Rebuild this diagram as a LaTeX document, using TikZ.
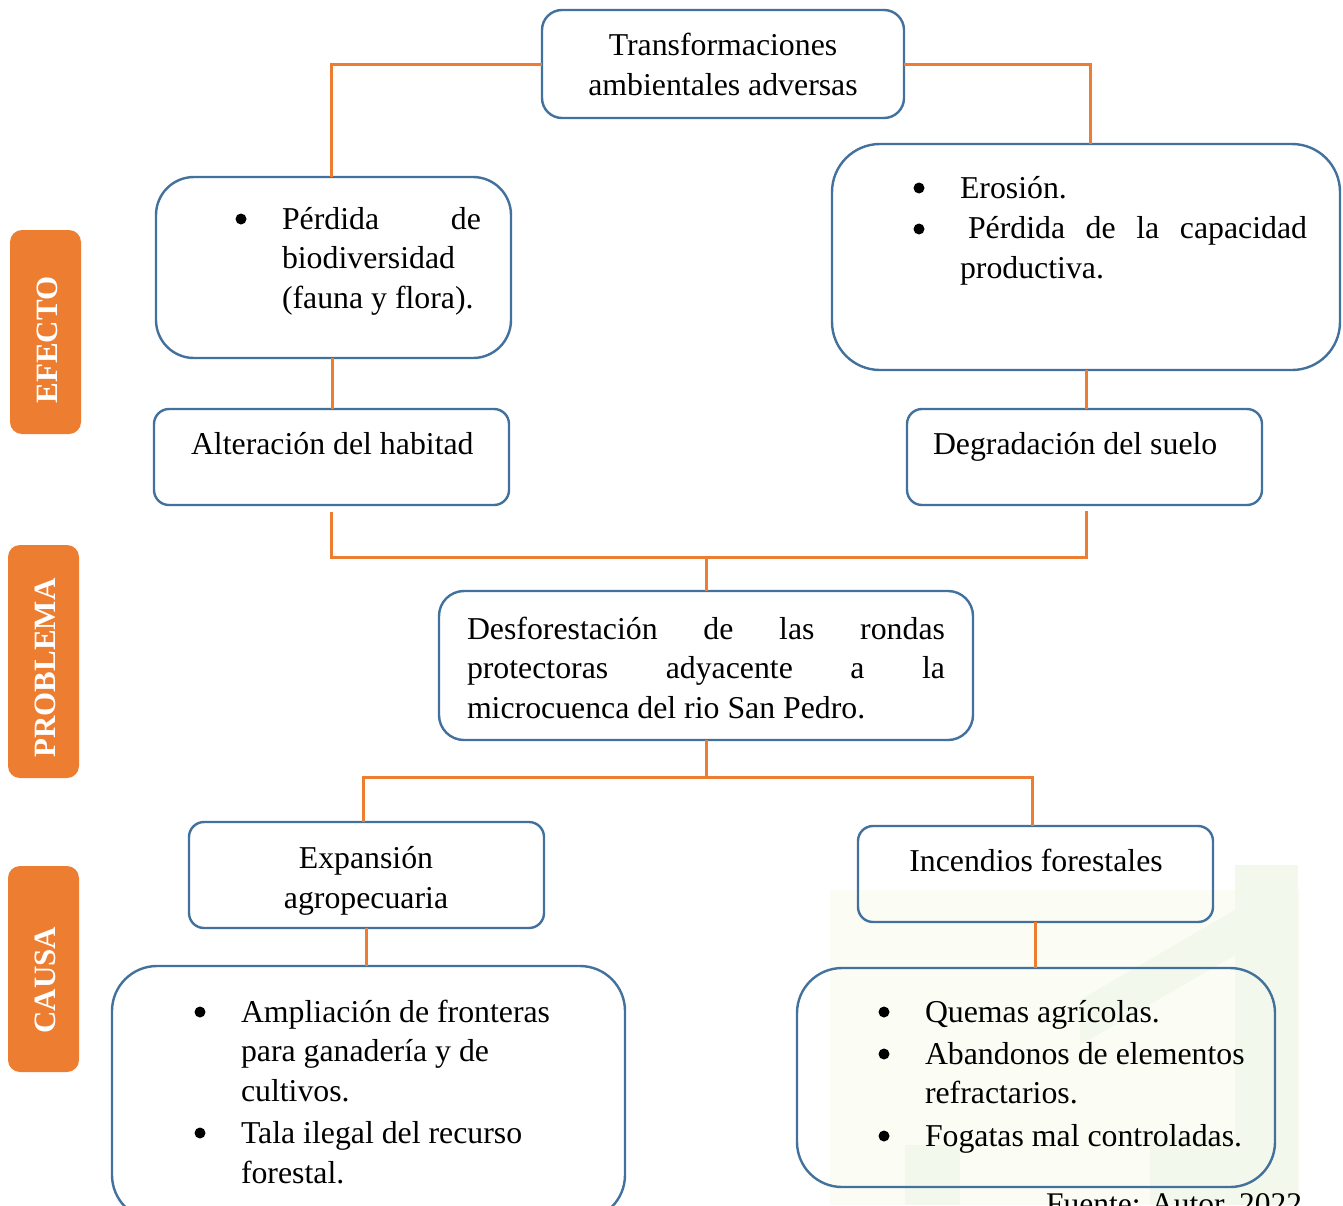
\documentclass[tikz,border=0pt]{standalone}
\usepackage{fontspec}
\setmainfont{Liberation Serif}
\definecolor{bluec}{HTML}{41719C}
\definecolor{orangec}{HTML}{ED7D31}
\definecolor{wmgreen}{HTML}{F3F8EC}
\definecolor{wmyellow}{HTML}{FBFCF3}
\newcommand\mylines[1]{\vtop{\baselineskip=39.5pt\lineskiplimit=-100pt\halign{##\hfil\cr#1\crcr}}}
\newcommand\mylinesc[1]{\vtop{\baselineskip=40pt\lineskiplimit=-100pt\halign{\hfil##\hfil\cr#1\crcr}}}
\tikzset{
  box/.style={draw=bluec, line width=2.4pt, rounded corners=#1, inner sep=0pt, outer sep=0pt},
  box/.default=15pt,
  conn/.style={draw=orangec, line width=3pt},
  txt/.style={inner sep=0pt, outer sep=0pt, font=\fontsize{31.8}{39.5}\selectfont},
  labbox/.style={fill=orangec, rounded corners=12pt, minimum width=71pt, inner sep=0pt, outer sep=0pt},
  labtxt/.style={rotate=90, text=white, inner sep=0pt, font=\fontsize{31}{31}\selectfont\bfseries},
  bul/.style={fill=black},
  wm/.style={fill=wmgreen}
}
\begin{document}
\begin{tikzpicture}[x=1pt,y=-1pt]
\useasboundingbox (0,0) rectangle (1343,1205);
\clip (0,0) rectangle (1343,1205);
\fill[white] (0,0) rectangle (1343,1205);
% faint watermark
\fill[wmyellow] (830,890) rectangle (1300,1205);
\fill[wm] (1235,865) rectangle (1298,1205);
\fill[wm] (1080,1000) -- (1235,910) -- (1235,955) -- (1080,1045) -- cycle;
\fill[wm] (1150,1135) rectangle (1235,1205);
\fill[wm] (905,1145) rectangle (960,1205);

% side labels
\node[labbox, minimum height=204pt] (labE) at (45.5,332) {};
\node[labtxt] (labEt) at (47,340) {EFECTO};
\node[labbox, minimum height=233pt] (labP) at (43.5,661.5) {};
\node[labtxt] (labPt) at (45,668) {PROBLEMA};
\node[labbox, minimum height=206pt] (labC) at (43.5,969) {};
\node[labtxt] (labCt) at (45,980) {CAUSA};

% boxes
\node[box=20pt, minimum width=362pt, minimum height=108pt] (top) at (723,64) {};
\node[box=38pt, minimum width=355pt, minimum height=181pt] (perd) at (333.5,267.5) {};
\node[box=48pt, minimum width=508pt, minimum height=226pt] (eros) at (1086,257) {};
\node[box=15pt, minimum width=355pt, minimum height=96pt] (alt) at (331.5,457) {};
\node[box=15pt, minimum width=355pt, minimum height=96pt] (deg) at (1084.5,457) {};
\node[box=25pt, minimum width=534pt, minimum height=149pt] (desf) at (706,665.5) {};
\node[box=15pt, minimum width=355pt, minimum height=106pt] (exp) at (366.5,875) {};
\node[box=15pt, minimum width=355pt, minimum height=96pt] (inc) at (1035.5,874) {};
\node[box=45pt, minimum width=513pt, minimum height=254pt] (amp) at (368.5,1093) {};
\node[box=45pt, minimum width=478pt, minimum height=219pt] (quem) at (1036,1077.5) {};

% texts
\node[txt, anchor=base] (ttop) at (723,55) {\mylinesc{Transformaciones\cr ambientales adversas}};
\node[txt, anchor=base west] (tperd) at (282,229) {\mylines{\makebox[199pt][s]{Pérdida de}\cr biodiversidad\cr (fauna y flora).}};
\node[txt, anchor=base west] (teros) at (960,198) {\mylines{Erosión.\cr\noalign{\vskip1pt}\hskip8pt\makebox[339pt][s]{Pérdida de la capacidad}\cr productiva.}};
\node[txt, anchor=base west] (talt) at (191,454) {Alteración del habitad};
\node[txt, anchor=base west] (tdeg) at (933,454) {Degradación del suelo};
\node[txt, anchor=base west] (tdesf) at (467,639) {\mylines{\makebox[478pt][s]{Desforestación de las rondas}\cr \makebox[478pt][s]{protectoras adyacente a la}\cr microcuenca del rio San Pedro.}};
\node[txt, anchor=base] (texp) at (366,868) {\mylinesc{Expansión\cr agropecuaria}};
\node[txt, anchor=base] (tinc) at (1036,871) {Incendios forestales};
\node[txt, anchor=base west] (tamp) at (241,1022) {\mylines{Ampliación de fronteras\cr para ganadería y de\cr cultivos.\cr\noalign{\vskip3pt}Tala ilegal del recurso\cr forestal.}};
\node[txt, anchor=base west] (tquem) at (925,1022) {\mylines{Quemas agrícolas.\cr\noalign{\vskip2.5pt}Abandonos de elementos\cr refractarios.\cr\noalign{\vskip3pt}Fogatas mal controladas.}};
\node[inner sep=0pt, anchor=base west, font=\fontsize{31.5}{36}\selectfont] (fuente) at (1046,1214) {Fuente: Autor, 2022};

% bullets
\fill[bul] (241,219) circle (5.5pt);
\fill[bul] (919,188) circle (5.5pt);
\fill[bul] (919,229) circle (5.5pt);
\fill[bul] (200,1012) circle (5.5pt);
\fill[bul] (200,1133) circle (5.5pt);
\fill[bul] (884,1012) circle (5.5pt);
\fill[bul] (884,1054) circle (5.5pt);
\fill[bul] (884,1136) circle (5.5pt);

% connectors
\draw[conn] (top.west) -| ([xshift=-2pt]perd.north);
\draw[conn] (top.east) -| ([xshift=4pt]eros.north);
\draw[conn] ([xshift=-1pt]perd.south) -- ([xshift=-1pt]perd.south |- alt.north);
\draw[conn] (eros.south) -- (eros.south |- deg.north);
\coordinate (j1) at (706,557);
\draw[conn] ([yshift=-7pt]alt.south) |- (j1) -| ([xshift=2pt,yshift=-6pt]deg.south);
\draw[conn] (j1) -- (desf.north);
\coordinate (j2) at (706,777);
\draw[conn] (desf.south) -- (j2);
\draw[conn] ([xshift=-3pt]exp.north) |- (j2) -| ([xshift=-3pt]inc.north);
\draw[conn] (exp.south) -- (exp.south |- amp.north);
\draw[conn] (inc.south) -- (inc.south |- quem.north);
\end{tikzpicture}
\end{document}
